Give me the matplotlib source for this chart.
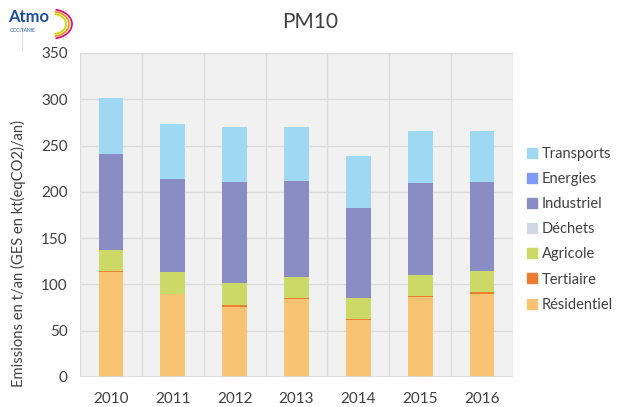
import matplotlib
matplotlib.use("Agg")
import matplotlib.pyplot as plt
import matplotlib.patches as patches
from matplotlib.lines import Line2D
import numpy as np

plt.rcParams['font.family'] = ['Lato', 'DejaVu Sans']

years = ['2010', '2011', '2012', '2013', '2014', '2015', '2016']

# stacked from bottom to top
residentiel = [113.5, 89.5, 76.0, 84.5, 61.5, 86.5, 90.0]
tertiaire = [0.5, 0.5, 2.0, 0.5, 1.0, 1.0, 1.5]
agricole = [23.0, 23.0, 23.5, 22.5, 23.0, 22.7, 22.7]
dechets = [0.3, 0.3, 0.3, 0.3, 0.3, 0.3, 0.3]
industriel = [103.4, 100.5, 108.8, 104.1, 96.9, 98.9, 95.8]
energies = [0.2, 0.2, 0.2, 0.2, 0.2, 0.2, 0.2]
transports = [60.1, 59.5, 59.0, 58.0, 56.0, 56.5, 55.5]

series = [
    ('Résidentiel', residentiel, '#f9c374'),
    ('Tertiaire', tertiaire, '#ed7d31'),
    ('Agricole', agricole, '#cdd966'),
    ('Déchets', dechets, '#d0d8e4'),
    ('Industriel', industriel, '#8a8cc4'),
    ('Energies', energies, '#7b9cf2'),
    ('Transports', transports, '#9fd8f3'),
]

fig = plt.figure(figsize=(6.2, 4.07), dpi=100)
ax = fig.add_axes([80 / 620, 30 / 407, 433 / 620, 324 / 407])
ax.set_facecolor('#f1f1f1')

x = np.arange(len(years))
bottom = np.zeros(len(years))
for name, vals, color in series:
    ax.bar(x, vals, width=0.4, bottom=bottom, color=color, label=name, zorder=3)
    bottom += np.array(vals)

ax.set_xlim(-0.5, len(years) - 0.5)
ax.set_ylim(0, 350)
ax.set_yticks(range(0, 351, 50))
ax.set_xticks(x)
ax.set_xticklabels(years)
ax.set_xticks(np.arange(-0.5, len(years), 1), minor=True)
ax.grid(True, axis='y', color='#dcdcdc', linewidth=1, zorder=0)
ax.grid(True, axis='x', which='minor', color='#dcdcdc', linewidth=1, zorder=0)
ax.tick_params(axis='both', which='both', length=0, labelsize=11, colors='#404040')
ax.tick_params(axis='x', pad=11)
ax.tick_params(axis='y', pad=9)
for s in ax.spines.values():
    s.set_visible(False)
ax.axhline(0, color='#d9d9d9', linewidth=1.2, zorder=4)

ax.set_ylabel('Emissions en t/an (GES en kt(eqCO2)/an)', fontsize=10.6, color='#404040')
ax.yaxis.set_label_coords(-54 / 433, 0.38)
fig.text(0.5, 1 - 22 / 407, 'PM10', ha='center', va='center', fontsize=15, color='#404040')

# legend, top entry is Transports
handles = [Line2D([], [], marker='s', linestyle='', markersize=7, color=c) for _, _, c in series][::-1]
labels = [n for n, _, _ in series][::-1]
fig.legend(handles, labels, loc='upper left', bbox_to_anchor=(512 / 620, 1 - 134 / 407),
           frameon=False, fontsize=10.5, labelspacing=0.76, handletextpad=0.15,
           handlelength=1.0, labelcolor='#404040')

# logo
fig.text(8 / 620, 1 - 17 / 407, 'Atmo', fontsize=12, fontweight='bold', color='#1e4f9c', va='center')
fig.text(10 / 620, 1 - 30 / 407, 'OCCITANIE', fontsize=3.5, color='#1e4f9c', va='center')
logo_ax = fig.add_axes([48 / 620, 1 - 40 / 407, 26 / 620, 32 / 407])
logo_ax.axis('off')
for r, c in [(1.0, '#e4007c'), (0.85, '#f39200'), (0.7, '#c8d400')]:
    logo_ax.add_patch(patches.Arc((0, 0.5), 2 * r, 2 * r, theta1=-80, theta2=80, color=c, linewidth=1.2))
logo_ax.set_xlim(-0.2, 1.1)
logo_ax.set_ylim(-0.6, 1.6)
fig.add_artist(Line2D([22 / 620, 22 / 620], [1 - 50 / 407, 1 - 8 / 407], color='#e0e0e0', linewidth=0.8))

fig.savefig('out.png', dpi=100)
